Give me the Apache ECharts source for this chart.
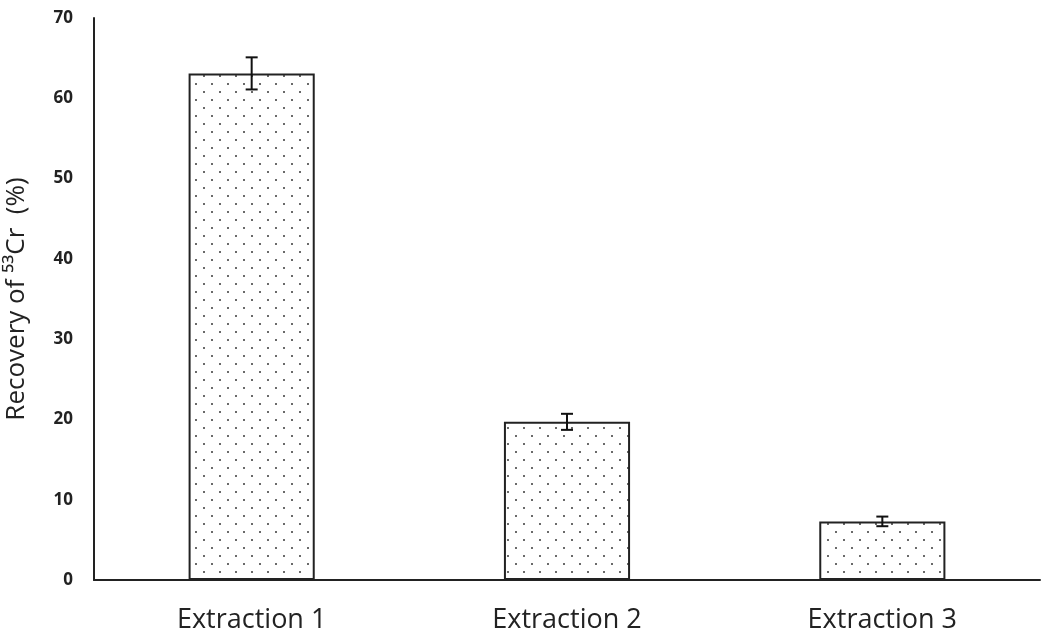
<!DOCTYPE html>
<html>
<head>
<meta charset="utf-8">
<script src="https://cdn.jsdelivr.net/npm/echarts@6/dist/echarts.min.js"></script>
<style>
  html, body { margin: 0; padding: 0; background: #fff; }
  #chart { width: 1050px; height: 644px; }
</style>
</head>
<body>
<div id="chart"></div>
<script>
const categories = ['Extraction 1', 'Extraction 2', 'Extraction 3']
const recovery = [63.1, 19.7, 7.3]
const errors = [2.0, 1.0, 0.6]
const yTicks = [0, 10, 20, 30, 40, 50, 60, 70]

// dotted fill like the original hatch
function dotPattern() {
  const c = document.createElement('canvas')
  c.width = 16
  c.height = 16
  const ctx = c.getContext('2d')
  ctx.fillStyle = '#fff'
  ctx.fillRect(0, 0, 16, 16)
  ctx.fillStyle = '#6a6a6a'
  ctx.fillRect(3, 3, 2, 2)
  ctx.fillRect(11, 11, 2, 2)
  return c
}

const chart = echarts.init(document.getElementById('chart'))

const errData = recovery.map((v, i) => [i, v - errors[i], v + errors[i]])

chart.setOption({
  backgroundColor: '#fff',
  animation: false,
  grid: { left: 94, right: 10, top: 18, bottom: 64, outerBoundsMode: 'none' },
  xAxis: {
    type: 'category',
    data: categories,
    axisLine: { lineStyle: { color: '#222', width: 2 } },
    axisTick: { show: false },
    axisLabel: { color: '#222', fontSize: 27, fontFamily: 'Open Sans', margin: 27 }
  },
  yAxis: {
    type: 'value',
    min: yTicks[0],
    max: yTicks[yTicks.length - 1],
    interval: 10,
    name: 'Recovery of \u2075\u00b3Cr  (%)',
    nameLocation: 'middle',
    nameGap: 64,
    nameTextStyle: { color: '#222', fontSize: 26, fontFamily: 'Open Sans' },
    axisLine: { show: true, lineStyle: { color: '#222', width: 2 } },
    axisTick: { show: false },
    splitLine: { show: false },
    axisLabel: { color: '#222', fontSize: 17, fontWeight: 'bold', fontFamily: 'Open Sans', margin: 21 }
  },
  series: [
    {
      type: 'bar',
      data: recovery,
      barWidth: '40%',
      itemStyle: {
        color: { image: dotPattern(), repeat: 'repeat' },
        borderColor: '#222',
        borderWidth: 2
      }
    },
    {
      type: 'custom',
      data: errData,
      z: 10,
      renderItem: function (params, api) {
        const x = api.value(0)
        const lo = api.coord([x, api.value(1)])
        const hi = api.coord([x, api.value(2)])
        const hw = 6
        const style = { stroke: '#111', lineWidth: 2 }
        return {
          type: 'group',
          children: [
            { type: 'line', shape: { x1: lo[0], y1: lo[1], x2: hi[0], y2: hi[1] }, style },
            { type: 'line', shape: { x1: lo[0] - hw, y1: lo[1], x2: lo[0] + hw, y2: lo[1] }, style },
            { type: 'line', shape: { x1: hi[0] - hw, y1: hi[1], x2: hi[0] + hw, y2: hi[1] }, style }
          ]
        }
      }
    }
  ]
})
</script>
</body>
</html>
